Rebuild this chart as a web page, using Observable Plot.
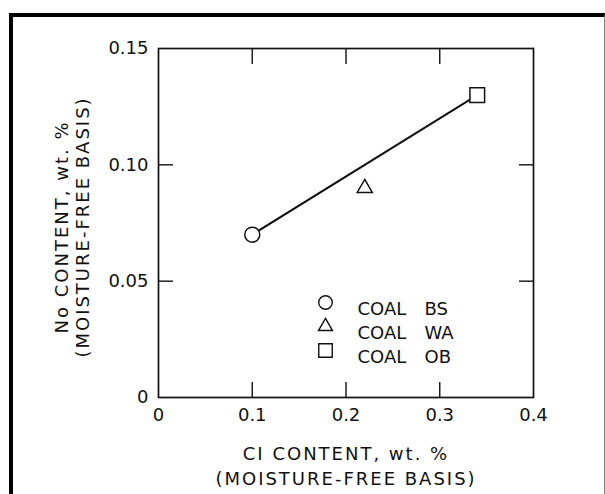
<!DOCTYPE html>
<html>
<head>
<meta charset="utf-8">
<script src="https://cdn.jsdelivr.net/npm/d3@7"></script>
<script src="https://cdn.jsdelivr.net/npm/@observablehq/plot@0.6"></script>
<style>
  html, body { margin: 0; padding: 0; background: #fff; }
  #wrap { position: relative; width: 605px; height: 494px; overflow: hidden; }
  #border { position: absolute; left: 9px; top: 13px; right: 0; bottom: -10px;
            border-top: 4px solid #000; border-left: 4px solid #000; border-right: 1px solid #888; }
  #chart { position: absolute; left: 0; top: 0; }
  .axtitle text { letter-spacing: 2px; }
</style>
</head>
<body>
<div id="wrap"><div id="border"></div><div id="chart"></div></div>
<script>
// Data
const coalCodes = ["BS", "WA", "OB"];
const coalSymbols = ["circle", "triangle", "square"];
const clContent = [0.10, 0.22, 0.34];   // Cl content, wt. %
const naContent = [0.07, 0.09, 0.13];   // Na content, wt. %
const lineCodes = ["BS", "OB"];          // fitted line joins these two

const xTickValues = [0, 0.1, 0.2, 0.3, 0.4];
const xTickLabels = ["0", "0.1", "0.2", "0.3", "0.4"];
const yTickValues = [0, 0.05, 0.10, 0.15];
const yTickLabels = ["0", "0.05", "0.10", "0.15"];
const xInnerTicks = [0.1, 0.2, 0.3];
const yInnerTicks = [0.05, 0.10];

const xTitle = ["CI CONTENT, wt. %", "(MOISTURE-FREE BASIS)"];
const yTitle = ["No CONTENT, wt. %", "(MOISTURE-FREE BASIS)"];

const points = coalCodes.map((c, i) => ({code: c, symbol: coalSymbols[i], x: clContent[i], y: naContent[i]}));
const linePts = points.filter(d => lineCodes.includes(d.code));

const font = "DejaVu Sans";
const symR = {circle: 7.5, triangle: 5.6, square: 8.3};
const legR = {circle: 6.8, triangle: 5.2, square: 7.6};

const innerAxis = (fn, ticks, anchor) => fn(ticks, {anchor, tickSize: -15, tickFormat: () => "", strokeWidth: 1.4, label: null});

const legendMarks = points.flatMap((d, i) => [
  Plot.dot([d], {frameAnchor: "top-left", dx: 167, dy: 254 + 24 * i, symbol: "symbol", r: legR[d.symbol], stroke: "#111", strokeWidth: 1.4, fill: "none"}),
  Plot.text([d], {frameAnchor: "top-left", dx: 199, dy: 254 + 24 * i, text: () => "COAL", textAnchor: "start", fontSize: 18, fill: "#111"}),
  Plot.text([d], {frameAnchor: "top-left", dx: 266, dy: 254 + 24 * i, text: "code", textAnchor: "start", fontSize: 18, fill: "#111"})
]);

const chart = Plot.plot({
  width: 605,
  height: 494,
  marginLeft: 158,
  marginRight: 72,
  marginTop: 48,
  marginBottom: 97,
  style: {fontFamily: font, fontSize: "18px", background: "transparent", color: "#111"},
  x: {domain: [0, 0.4]},
  y: {domain: [0, 0.15]},
  r: {type: "identity"},
  symbol: {domain: coalSymbols, range: coalSymbols},
  marks: [
    Plot.frame({stroke: "#111", strokeWidth: 1.7}),
    innerAxis(Plot.axisX, xInnerTicks, "bottom"),
    innerAxis(Plot.axisX, xInnerTicks, "top"),
    innerAxis(Plot.axisY, yInnerTicks, "left"),
    innerAxis(Plot.axisY, yInnerTicks, "right"),
    Plot.axisX(xTickValues, {anchor: "bottom", tickSize: 0, tickPadding: 11, fontSize: 18,
      tickFormat: d => xTickLabels[xTickValues.indexOf(d)], label: null}),
    Plot.axisY(yTickValues, {anchor: "left", tickSize: 0, tickPadding: 10, fontSize: 18,
      tickFormat: d => yTickLabels[yTickValues.indexOf(d)], label: null}),
    Plot.line(linePts, {x: "x", y: "y", stroke: "#111", strokeWidth: 2}),
    Plot.dot(points, {x: "x", y: "y", symbol: "symbol", r: d => symR[d.symbol], stroke: "#111", strokeWidth: 1.5, fill: "white"}),
    ...legendMarks,
    Plot.text([xTitle.join("\n")], {frameAnchor: "bottom", dy: 67, text: d => d, fontSize: 18, lineHeight: 1.4, lineAnchor: "middle", textAnchor: "middle", fill: "#111", className: "axtitle"}),
    Plot.text([yTitle.join("\n")], {frameAnchor: "left", dx: -87, dy: 4, text: d => d, rotate: -90, fontSize: 18, lineHeight: 1.2, lineAnchor: "middle", textAnchor: "middle", fill: "#111", className: "axtitle"})
  ]
});
document.getElementById("chart").appendChild(chart);
</script>
</body>
</html>
